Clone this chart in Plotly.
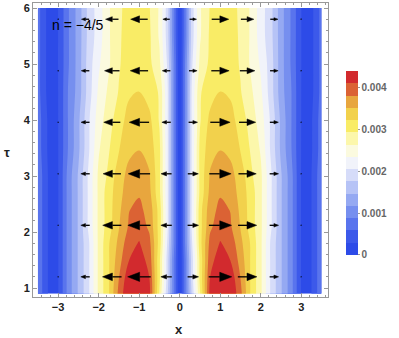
"""Contour map of the density over (x, tau) with the horizontal flow arrows, n = -4/5."""

import plotly.graph_objects as go

# grid (density in units of 1e-4)
X_GRID = [-3.5, -3.3, -3.12, -2.95, -2.75, -2.5, -2.25, -2.0, -1.75, -1.5, -1.25, -1.0,
          -0.75, -0.5, -0.3, -0.15, 0.0, 0.15, 0.3, 0.5, 0.75, 1.0, 1.25, 1.5, 1.75,
          2.0, 2.25, 2.5, 2.75, 2.95, 3.12, 3.3, 3.5]
TAU_GRID = [0.9, 1.2, 1.5, 1.8, 2.1, 2.4, 2.7, 3.0, 3.5, 4.0, 4.5, 5.0, 5.5, 6.0]
DENSITY_E4 = [
    [8, 4, 0, 4, 10, 15, 20, 27, 32, 39, 44, 45, 42, 29, 18, 9, 0, 9, 18, 29, 42, 45, 44, 39, 32, 27, 20, 15, 10, 4, 0, 4, 8],
    [8, 4, 0, 4, 10, 15, 20, 27, 32, 38, 43, 44, 41, 30, 19, 9, 0, 9, 19, 30, 41, 44, 43, 38, 32, 27, 20, 15, 10, 4, 0, 4, 8],
    [8, 4, 0, 4, 10, 15, 20, 27, 32, 37, 41, 42.5, 40, 30, 19, 9, 0, 9, 19, 30, 40, 42.5, 41, 37, 32, 27, 20, 15, 10, 4, 0, 4, 8],
    [8, 4, 0, 4, 10, 15, 20, 27, 32, 36, 40, 41.2, 39, 31, 20, 10, 0, 10, 20, 31, 39, 41.2, 40, 36, 32, 27, 20, 15, 10, 4, 0, 4, 8],
    [8, 4, 0, 4, 10, 15, 21, 27, 31, 35, 38.5, 39.8, 37.5, 31, 21, 10, 0, 10, 21, 31, 37.5, 39.8, 38.5, 35, 31, 27, 21, 15, 10, 4, 0, 4, 8],
    [8, 4, 0, 4, 10, 15, 21, 27, 31, 34.5, 38, 38.8, 37, 31, 21, 10, 0, 10, 21, 31, 37, 38.8, 38, 34.5, 31, 27, 21, 15, 10, 4, 0, 4, 8],
    [8, 4, 0, 4, 10, 15, 21, 27, 31, 34, 37, 37.8, 36, 30, 21, 10, 0, 10, 21, 30, 36, 37.8, 37, 34, 31, 27, 21, 15, 10, 4, 0, 4, 8],
    [8, 4, 0, 4, 10, 15, 21, 27, 30, 34, 36, 36.8, 35.5, 30, 21, 10, 0, 10, 21, 30, 35.5, 36.8, 36, 34, 30, 27, 21, 15, 10, 4, 0, 4, 8],
    [7.5, 3.5, 0.2, 4, 9, 14, 20, 26, 29, 32, 34.5, 35, 34, 30, 21, 10, 0, 10, 21, 30, 34, 35, 34.5, 32, 29, 26, 20, 14, 9, 4, 0.2, 3.5, 7.5],
    [7.5, 3.5, 0.3, 4, 9, 14, 20, 25, 28, 31, 33.3, 33.7, 33, 29, 21, 10, 0, 10, 21, 29, 33, 33.7, 33.3, 31, 28, 25, 20, 14, 9, 4, 0.3, 3.5, 7.5],
    [7, 3, 0.4, 4, 9, 13, 19, 24, 27, 29.5, 31.8, 32.3, 31, 29, 21, 10, 0, 10, 21, 29, 31, 32.3, 31.8, 29.5, 27, 24, 19, 13, 9, 4, 0.4, 3, 7],
    [7, 3, 0.5, 4, 8.5, 13, 19, 23, 26, 29, 30.8, 31.3, 30, 27, 20, 10, 0, 10, 20, 27, 30, 31.3, 30.8, 29, 26, 23, 19, 13, 8.5, 4, 0.5, 3, 7],
    [7, 3, 0.5, 4, 8.5, 13, 18.5, 22, 26, 29, 30.2, 30.5, 29.8, 26, 19, 9, 0, 9, 19, 26, 29.8, 30.5, 30.2, 29, 26, 22, 18.5, 13, 8.5, 4, 0.5, 3, 7],
    [7, 3, 0.5, 4, 8.5, 13, 18.5, 22, 26, 29, 29.9, 30, 29.5, 26, 19, 9, 0, 9, 19, 26, 29.5, 30, 29.9, 29, 26, 22, 18.5, 13, 8.5, 4, 0.5, 3, 7],
]

# arrow field: sample points and horizontal component (x units)
ARROW_X = [-3, -2.33, -1.67, -1, -0.33, 0.33, 1, 1.67, 2.33, 3]
ARROW_TAU = [1.2, 2.12, 3.04, 3.96, 4.88, 5.8]
ARROW_U = [
    [-0.03, -0.22, -0.47, -0.57, -0.27, 0.27, 0.57, 0.47, 0.22, 0.03],
    [-0.03, -0.22, -0.46, -0.56, -0.27, 0.27, 0.56, 0.46, 0.22, 0.03],
    [-0.03, -0.22, -0.44, -0.54, -0.26, 0.26, 0.54, 0.44, 0.22, 0.03],
    [-0.03, -0.21, -0.41, -0.49, -0.22, 0.22, 0.49, 0.41, 0.21, 0.03],
    [-0.03, -0.20, -0.37, -0.44, -0.20, 0.20, 0.44, 0.37, 0.20, 0.03],
    [-0.03, -0.19, -0.32, -0.42, -0.17, 0.17, 0.42, 0.32, 0.19, 0.03],
]

CBAR_TICKS = [0, 0.001, 0.002, 0.003, 0.004]
CBAR_LABELS = ["0", "0.001", "0.002", "0.003", "0.004"]

FONT = "Liberation Sans"
LEVEL = 0.000293

band_colors = [
    "rgb(45,75,232)", "rgb(72,100,236)", "rgb(98,125,238)", "rgb(126,150,240)",
    "rgb(155,174,243)", "rgb(186,199,246)", "rgb(216,222,249)", "rgb(241,243,250)",
    "rgb(251,250,226)", "rgb(252,248,182)", "rgb(250,240,108)", "rgb(245,220,80)",
    "rgb(236,180,66)", "rgb(226,140,56)", "rgb(210,42,46)",
]
colorscale = [[0.0, band_colors[0]]]
for k, c in enumerate(band_colors):
    colorscale.append([(k + 0.5) / 15.0, c])
colorscale.append([1.0, band_colors[-1]])

z = [[v * 1e-4 for v in row] for row in DENSITY_E4]

fig = go.Figure()
fig.add_trace(go.Contour(
    x=X_GRID, y=TAU_GRID, z=z,
    zmin=0, zmax=0.0044,
    autocontour=False,
    contours=dict(start=LEVEL, end=0.00411, size=LEVEL, coloring="fill", showlines=False),
    line=dict(width=0),
    colorscale=colorscale,
    hoverinfo="skip",
    colorbar=dict(
        x=1.061, xanchor="left", xpad=0,
        y=0.456, yanchor="middle", ypad=0,
        len=0.626, lenmode="fraction",
        thickness=12, outlinewidth=0,
        tickvals=CBAR_TICKS, ticktext=CBAR_LABELS,
        ticks="outside", ticklen=2, tickcolor="#999",
        tickfont=dict(family=FONT, size=10, color="#666", weight="bold"),
    ),
))

# arrows: shaft lines + filled heads
shaft_x, shaft_y, head_x, head_y = [], [], [], []
for tau, row in zip(ARROW_TAU, ARROW_U):
    for xc, u in zip(ARROW_X, row):
        tail = xc - u / 2
        tip = xc + u / 2
        base = tip - 0.52 * u
        half = 0.145 * abs(u)
        shaft_x += [tail, base, None]
        shaft_y += [tau, tau, None]
        head_x += [tip, base, base, tip, None]
        head_y += [tau, tau + half, tau - half, tau, None]

fig.add_trace(go.Scatter(x=shaft_x, y=shaft_y, mode="lines",
                         line=dict(color="black", width=1.3), hoverinfo="skip", showlegend=False))
fig.add_trace(go.Scatter(x=head_x, y=head_y, mode="lines", fill="toself",
                         fillcolor="black", line=dict(color="black", width=0.5),
                         hoverinfo="skip", showlegend=False))

axis_common = dict(
    showline=True, linecolor="#999", linewidth=1, mirror="allticks",
    ticks="inside", ticklen=4, tickcolor="#999", showgrid=False, zeroline=False,
    automargin=False,
    tickfont=dict(family=FONT, size=11, color="#222", weight="bold"),
)
fig.update_xaxes(range=[-3.62, 3.66], tickvals=[-3, -2, -1, 0, 1, 2, 3],
                 minor=dict(dtick=0.2, ticks="inside", ticklen=2, tickcolor="#999"),
                 **axis_common)
fig.update_yaxes(range=[0.84, 6.09], tickvals=[1, 2, 3, 4, 5, 6],
                 minor=dict(dtick=0.2, ticks="inside", ticklen=2, tickcolor="#999"),
                 **axis_common)

fig.add_annotation(x=-3.19, y=5.7, xref="x", yref="y", text="n = \u22124/5",
                   showarrow=False, xanchor="left", yanchor="middle",
                   font=dict(family=FONT, size=14, color="black"))
fig.add_annotation(x=0.495, y=-0.112, xref="paper", yref="paper", text="x",
                   showarrow=False, xanchor="center", yanchor="middle",
                   font=dict(family=FONT, size=13, color="#222", weight="bold"))
fig.add_annotation(x=-0.088, y=0.493, xref="paper", yref="paper", text="\u03c4",
                   showarrow=False, xanchor="center", yanchor="middle",
                   font=dict(family=FONT, size=13, color="#222", weight="bold"))

fig.update_layout(
    width=399, height=338, autosize=False,
    margin=dict(l=33, r=71, t=3, b=41, autoexpand=False),
    paper_bgcolor="white", plot_bgcolor="white",
    showlegend=False,
)

# page body margin would offset the 399x338 figure inside the window
fig.write_html("out.html", config={"displayModeBar": False},
               post_script="document.body.style.margin = '0';")
